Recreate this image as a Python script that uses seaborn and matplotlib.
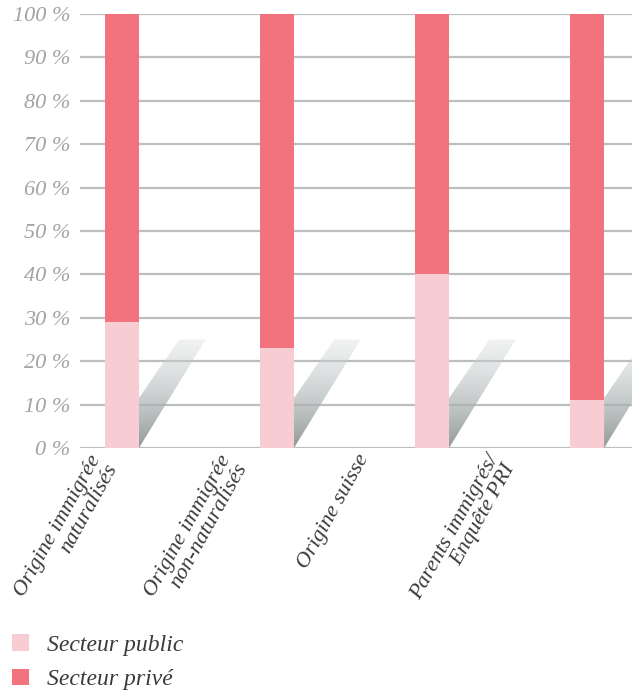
import numpy as np
import pandas as pd
import matplotlib
matplotlib.use("Agg")
import matplotlib.pyplot as plt
from matplotlib.patches import Polygon, Patch
import seaborn as sns

# values
categories = ["Origine immigrée\nnaturalisés",
              "Origine immigrée\nnon-naturalisés",
              "Origine suisse",
              "Parents immigrés/\nEnquête PRI"]
public = [29, 23, 40, 11]
prive = [71, 77, 60, 89]
series_names = ["Secteur public", "Secteur privé"]
y_ticks = [0, 10, 20, 30, 40, 50, 60, 70, 80, 90, 100]

# layout (label anchors in axes fraction, shifted left of the bars like the print)
label_x = [(88 - 80) / 552, (218 - 80) / 552, (356 - 80) / 552, (486 - 80) / 552]

col_public = "#f7ccd2"
col_prive = "#f2737d"
col_grid = "#bdbfbf"

sns.set_theme(style="white")
plt.rcParams["font.family"] = ["Liberation Serif", "DejaVu Serif"]

df = pd.DataFrame({"cat": categories, "public": public, "prive": prive})
df["total"] = df["public"] + df["prive"]

fig = plt.figure(figsize=(6.32, 6.92), dpi=100)
ax = fig.add_axes([80 / 632, 1 - 448 / 692, 552 / 632, 434 / 692])

# stacked bars: total in privé colour, public on top of it from 0
sns.barplot(data=df, x="cat", y="total", color=col_prive, saturation=1,
            width=0.22, ax=ax, zorder=3, linewidth=0)
sns.barplot(data=df, x="cat", y="public", color=col_public, saturation=1,
            width=0.22, ax=ax, zorder=4, linewidth=0)

# decorative grey shadow behind each bar
grad = np.linspace(0, 1, 100).reshape(-1, 1)
img = np.zeros((100, 1, 4))
dark = np.array([0.55, 0.58, 0.58])
light = np.array([0.84, 0.86, 0.86])
img[..., :3] = dark + (light - dark) * grad[..., None]
img[..., 3] = 0.95 - 0.6 * grad
half = 0.11
for i in range(len(categories)):
    poly = Polygon([(i + half, 0), (i + half, 11.5), (i + 0.37, 25),
                    (i + 0.54, 25)], closed=True, transform=ax.transData,
                   facecolor="none", edgecolor="none")
    ax.add_patch(poly)
    im = ax.imshow(img, extent=(i + half, i + 0.54, 0, 25), origin="lower",
                   aspect="auto", zorder=2, interpolation="bilinear")
    im.set_clip_path(poly)

ax.set_xlim(-0.27, 3.29)
ax.set_ylim(0, 100)
ax.set_yticks(y_ticks)
ax.set_yticklabels([f"{v} %" for v in y_ticks], fontstyle="italic",
                   color="#a3a3a3", fontsize=16)
ax.tick_params(axis="y", length=0, pad=7)
ax.set_xticks([])
ax.set_xlabel("")
ax.set_ylabel("")
ax.yaxis.grid(True, color=col_grid, linewidth=1.6, zorder=1)
ax.set_axisbelow(True)
for s in ax.spines.values():
    s.set_visible(False)

for x, lab in zip(label_x, categories):
    ax.text(x, -0.008, lab, transform=ax.transAxes, rotation=61,
            rotation_mode="anchor", ha="right", va="top",
            multialignment="right", fontstyle="italic", fontsize=16,
            color="#3a3a3a", linespacing=1.0)

handles = [Patch(facecolor=col_public, edgecolor="none"),
           Patch(facecolor=col_prive, edgecolor="none")]
fig.legend(handles, series_names, loc="upper left",
           bbox_to_anchor=(12 / 632, 1 - 634 / 692), frameon=False,
           prop={"style": "italic", "size": 17}, labelcolor="#3a3a3a",
           handlelength=0.7, handleheight=0.7, handletextpad=0.8,
           labelspacing=0.55, borderpad=0, borderaxespad=0)

fig.savefig("out.png", dpi=100)
